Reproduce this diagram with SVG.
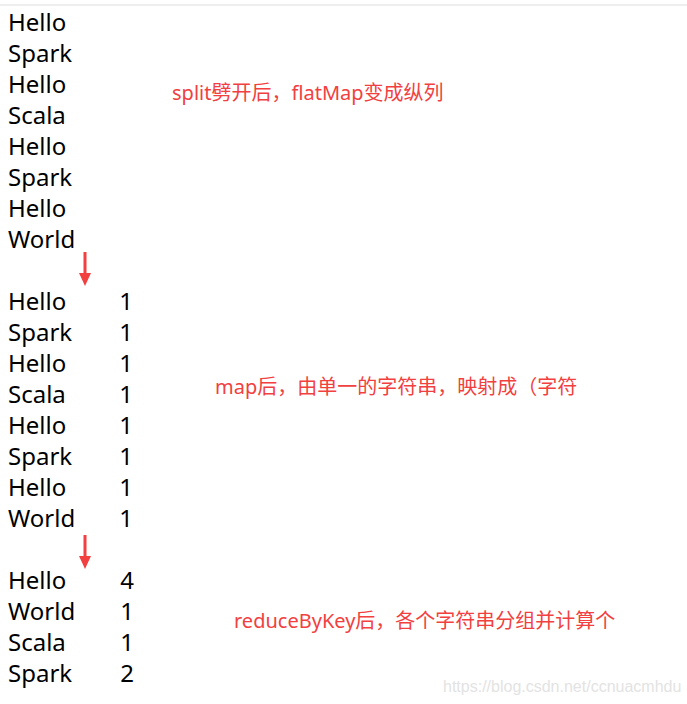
<svg xmlns="http://www.w3.org/2000/svg" width="687" height="704" viewBox="0 0 687 704">
<style>
.w{font-family:"Noto Sans","Liberation Sans",sans-serif;font-size:24px;fill:#000}
.n{font-family:"Noto Sans","Liberation Sans",sans-serif;font-size:24px;fill:#000;text-anchor:middle}
.r{font-family:"Noto Sans","Noto Sans CJK SC",sans-serif;font-size:20px;fill:#f24040}
.wm{font-family:"Liberation Sans",sans-serif;font-size:16px;fill:#e3e3e3}
.ar{fill:#f24040}
</style>
<rect width="687" height="704" fill="#fff"/>
<rect x="0" y="4" width="687" height="2" fill="#eeeeee"/>
<g id="block1">
<text class="w" x="8" y="31">Hello</text>
<text class="w" x="8" y="62">Spark</text>
<text class="w" x="8" y="93">Hello</text>
<text class="w" x="8" y="124">Scala</text>
<text class="w" x="8" y="155">Hello</text>
<text class="w" x="8" y="186">Spark</text>
<text class="w" x="8" y="217">Hello</text>
<text class="w" x="8" y="248">World</text>
</g>
<g id="block2">
<text class="w" x="8" y="310">Hello</text>
<text class="w" x="8" y="341">Spark</text>
<text class="w" x="8" y="372">Hello</text>
<text class="w" x="8" y="403">Scala</text>
<text class="w" x="8" y="434">Hello</text>
<text class="w" x="8" y="465">Spark</text>
<text class="w" x="8" y="496">Hello</text>
<text class="w" x="8" y="527">World</text>
<text class="n" x="126" y="310">1</text>
<text class="n" x="126" y="341">1</text>
<text class="n" x="126" y="372">1</text>
<text class="n" x="126" y="403">1</text>
<text class="n" x="126" y="434">1</text>
<text class="n" x="126" y="465">1</text>
<text class="n" x="126" y="496">1</text>
<text class="n" x="126" y="527">1</text>
</g>
<g id="block3">
<text class="w" x="8" y="589">Hello</text>
<text class="w" x="8" y="620">World</text>
<text class="w" x="8" y="651">Scala</text>
<text class="w" x="8" y="682">Spark</text>
<text class="n" x="127" y="589">4</text>
<text class="n" x="127" y="620">1</text>
<text class="n" x="127" y="651">1</text>
<text class="n" x="127" y="682">2</text>
</g>
<g id="connectors">
<path class="ar" d="M83.5,252 H86.5 V273 H91 L85,286 L79,273 H83.5 Z"/>
<path class="ar" d="M83.5,535 H86.5 V556 H91 L85,569 L79,556 H83.5 Z"/>
</g>
<g id="notes">
<text class="r" x="172" y="100">split劈开后，flatMap变成纵列</text>
<text class="r" x="215" y="394">map后，由单一的字符串，映射成（字符</text>
<text class="r" x="234" y="628">reduceByKey后，各个字符串分组并计算个</text>
</g>
<text class="wm" x="443" y="692">https://blog.csdn.net/ccnuacmhdu</text>
</svg>
